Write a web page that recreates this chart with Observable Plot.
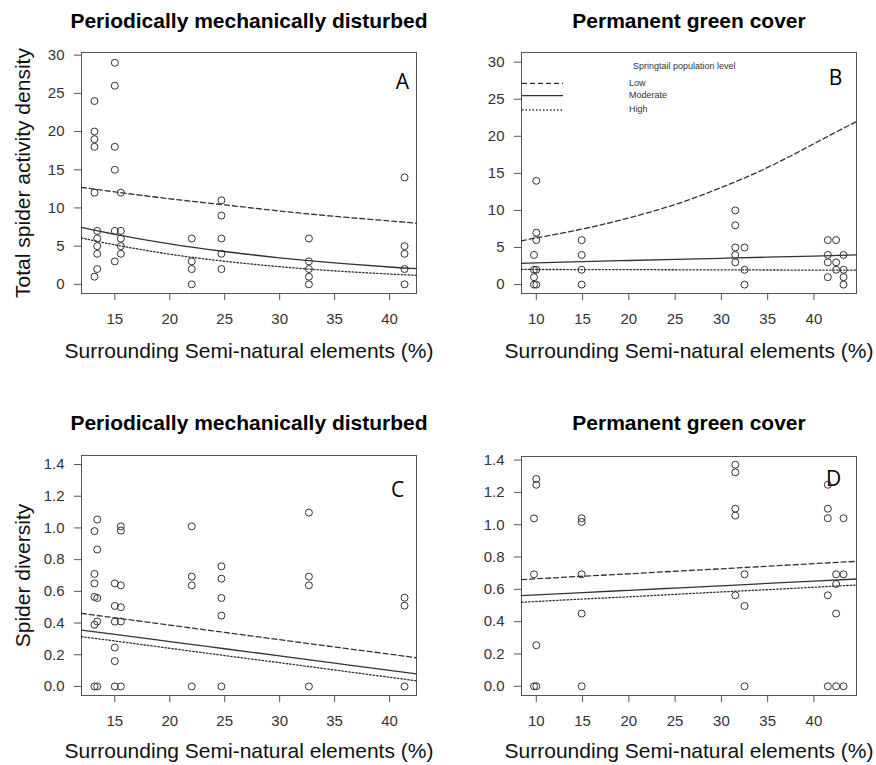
<!DOCTYPE html>
<html>
<head>
<meta charset="utf-8">
<script src="https://cdn.jsdelivr.net/npm/d3@7"></script>
<script src="https://cdn.jsdelivr.net/npm/@observablehq/plot@0.6"></script>
<style>
  html, body { margin: 0; padding: 0; background: #fff; }
  #wrap { position: relative; width: 876px; height: 765px; background: #fff; overflow: hidden; }
  #wrap > .p { position: absolute; }
</style>
</head>
<body>
<div id="wrap"></div>
<script>
// ---------- text ----------
const titleTop = "Periodically mechanically disturbed";
const titleGreen = "Permanent green cover";
const xLabel = "Surrounding Semi-natural elements (%)";
const yLabelTop = "Total spider activity density";
const yLabelBottom = "Spider diversity";
const panelLetters = ["A", "B", "C", "D"];
const legendTitle = "Springtail population level";
const legendLabels = ["Low", "Moderate", "High"];

// ---------- ticks ----------
const xTicksPMD = [15, 20, 25, 30, 35, 40];
const xTicksGreen = [10, 15, 20, 25, 30, 35, 40];
const yTicksDensity = [0, 5, 10, 15, 20, 25, 30];
const yTicksDiversity = [0, 0.2, 0.4, 0.6, 0.8, 1.0, 1.2, 1.4];

// ---------- Panel A: density, periodically mechanically disturbed ----------
const ptsA_x = [13.15,13.15,13.15,13.15,13.15,13.15, 13.4,13.4,13.4,13.4,13.4,
  15.0,15.0,15.0,15.0,15.0,15.0, 15.55,15.55,15.55,15.55,15.55,
  22.0,22.0,22.0,22.0, 24.7,24.7,24.7,24.7,24.7, 32.66,32.66,32.66,32.66,32.66,
  41.36,41.36,41.36,41.36,41.36];
const ptsA_y = [24,20,19,18,12,1, 7,6,5,4,2,
  29,26,18,15,7,3, 12,7,6,5,4,
  6,3,2,0, 11,9,6,4,2, 6,3,2,1,0,
  14,5,4,2,0];
const lineA_x = [11.97, 15, 20, 25, 30, 35, 40, 42.45];
const lineA_low = [12.7, 12.1, 11.2, 10.4, 9.6, 8.9, 8.3, 8.0];
const lineA_mod = [7.45, 6.55, 5.3, 4.3, 3.47, 2.81, 2.27, 2.05];
const lineA_high = [6.07, 5.17, 3.95, 3.02, 2.31, 1.76, 1.35, 1.18];

// ---------- Panel B: density, permanent green cover ----------
const ptsB_x = [9.75,9.75,9.75,9.75, 10.0,10.0,10.0,10.0,10.0,
  14.9,14.9,14.9,14.9, 31.5,31.5,31.5,31.5,31.5, 32.5,32.5,32.5,
  41.5,41.5,41.5,41.5, 42.4,42.4,42.4, 43.2,43.2,43.2,43.2];
const ptsB_y = [4,2,1,0, 14,7,6,2,0,
  6,4,2,0, 10,8,5,4,3, 5,2,0,
  6,4,3,1, 6,3,2, 4,2,1,0];
const lineB_x = [8.4, 10, 15, 20, 25, 30, 35, 40, 44.6];
const lineB_low = [5.9, 6.3, 7.5, 9.0, 10.8, 13.1, 15.8, 19.0, 22.0];
const lineB_mod = [2.87, 2.92, 3.1, 3.25, 3.4, 3.55, 3.7, 3.85, 4.0];
const lineB_high = [2.05, 2.04, 2.03, 2.02, 2.0, 1.99, 1.97, 1.96, 1.95];

// ---------- Panel C: diversity, periodically mechanically disturbed ----------
const ptsC_x = [13.15,13.15,13.15,13.15,13.15,13.15, 13.4,13.4,13.4,13.4,13.4,
  15.0,15.0,15.0,15.0,15.0,15.0, 15.55,15.55,15.55,15.55,15.55,15.55,
  22.0,22.0,22.0,22.0, 24.7,24.7,24.7,24.7,24.7, 32.66,32.66,32.66,32.66,
  41.36,41.36,41.36];
const ptsC_y = [0.98,0.71,0.65,0.565,0.39,0, 1.053,0.864,0.558,0.41,0,
  0.65,0.508,0.409,0.245,0.16,0, 1.01,0.983,0.638,0.50,0.41,0,
  1.01,0.693,0.638,0, 0.758,0.68,0.558,0.447,0, 1.097,0.693,0.638,0,
  0.56,0.51,0];
const lineC_x = [11.97, 15, 20, 25, 30, 35, 40, 42.45];
const lineC_low = [0.461, 0.433, 0.387, 0.341, 0.295, 0.249, 0.204, 0.181];
const lineC_mod = [0.356, 0.329, 0.283, 0.238, 0.193, 0.147, 0.102, 0.080];
const lineC_high = [0.314, 0.287, 0.241, 0.195, 0.150, 0.104, 0.058, 0.036];

// ---------- Panel D: diversity, permanent green cover ----------
const ptsD_x = [9.75,9.75,9.75, 10.0,10.0,10.0,10.0,
  14.9,14.9,14.9,14.9,14.9, 31.5,31.5,31.5,31.5,31.5, 32.5,32.5,32.5,
  41.5,41.5,41.5,41.5,41.5, 42.4,42.4,42.4,42.4, 43.2,43.2,43.2];
const ptsD_y = [1.039,0.693,0, 1.283,1.247,0.254,0,
  1.04,1.017,0.693,0.45,0, 1.371,1.324,1.099,1.056,0.563, 0.693,0.497,0,
  1.247,1.099,1.04,0.563,0, 0.693,0.633,0.45,0, 1.04,0.693,0];
const lineD_x = [8.4, 15, 20, 25, 30, 35, 40, 44.6];
const lineD_low = [0.66, 0.681, 0.696, 0.712, 0.727, 0.743, 0.759, 0.773];
const lineD_mod = [0.561, 0.58, 0.594, 0.608, 0.622, 0.637, 0.651, 0.664];
const lineD_high = [0.52, 0.54, 0.554, 0.569, 0.584, 0.598, 0.613, 0.627];

// ---------- drawing ----------
const INK = "#333";
const dashFor = ["5,3", null, "1.5,2"];

function zip(xs, ys) { return xs.map((x, i) => ({x, y: ys[i]})); }

function panel(cfg) {
  const lines = [cfg.low, cfg.mod, cfg.high].map(ys => zip(cfg.lx, ys));
  const marks = [
    Plot.frame({stroke: "#555", strokeWidth: 1}),
    Plot.axisX({ticks: cfg.xTicks, tickSize: 7, tickPadding: 13, fontSize: 15, label: null, stroke: "#555"}),
    Plot.axisY({ticks: cfg.yTicks, tickSize: 7, tickPadding: 10, fontSize: 15, label: null, stroke: "#555",
      tickFormat: cfg.yFormat}),
    ...lines.map((d, i) => Plot.line(d, {x: "x", y: "y", curve: "natural", stroke: INK,
      strokeWidth: 1.3, strokeDasharray: dashFor[i]})),
    Plot.dot(zip(cfg.px, cfg.py), {x: "x", y: "y", r: 3.5, stroke: INK, strokeWidth: 1, fill: "none"}),
    Plot.text([cfg.title], {text: d => d, frameAnchor: "top", dy: cfg.titleDy, lineAnchor: "bottom",
      textAnchor: "middle", fontSize: 21, fontWeight: "bold", fill: "#000"}),
    Plot.text([xLabel], {text: d => d, frameAnchor: "bottom", dy: cfg.xLabelDy, lineAnchor: "bottom",
      textAnchor: "middle", fontSize: 21, fill: "#111"}),
    Plot.text([cfg.letter], {text: d => d, frameAnchor: "top-right", dx: cfg.letterDx, dy: cfg.letterDy,
      lineAnchor: "middle", textAnchor: "middle", fontSize: 21, fill: "#000",
      fontFamily: "'Open Sans', 'Liberation Sans', sans-serif"})
  ];
  if (cfg.yLabel) {
    marks.push(Plot.text([cfg.yLabel], {text: d => d, frameAnchor: "left", dx: -52, rotate: -90,
      lineAnchor: "bottom", textAnchor: "middle", fontSize: 21, fill: "#111"}));
  }
  const svg = Plot.plot({
    width: 438,
    height: cfg.height,
    marginLeft: cfg.ml, marginRight: cfg.mr, marginTop: cfg.mt, marginBottom: cfg.mb,
    x: {domain: cfg.xDomain},
    y: {domain: cfg.yDomain},
    style: {fontFamily: "'Liberation Sans', Arial, sans-serif", color: INK, background: "transparent", overflow: "visible"},
    marks
  });
  svg.classList.add("p");
  svg.style.left = cfg.left + "px";
  svg.style.top = cfg.top + "px";
  document.getElementById("wrap").appendChild(svg);
  return svg;
}

const fmt1 = d3.format(".1f");

panel({left: 0, top: 0, height: 382, ml: 81, mr: 22, mt: 52, mb: 89,
  xDomain: [11.97, 42.45], yDomain: [-1.2, 30.35],
  xTicks: xTicksPMD, yTicks: yTicksDensity, yFormat: d3.format("d"),
  px: ptsA_x, py: ptsA_y, lx: lineA_x, low: lineA_low, mod: lineA_mod, high: lineA_high,
  title: titleTop, titleDy: -25, xLabelDy: 64, yLabel: yLabelTop,
  letter: panelLetters[0], letterDx: -14, letterDy: 30});

const svgB = panel({left: 438, top: 0, height: 382, ml: 83, mr: 20, mt: 52, mb: 89,
  xDomain: [8.4, 44.6], yDomain: [-1.2, 31.3],
  xTicks: xTicksGreen, yTicks: yTicksDensity, yFormat: d3.format("d"),
  px: ptsB_x, py: ptsB_y, lx: lineB_x, low: lineB_low, mod: lineB_mod, high: lineB_high,
  title: titleGreen, titleDy: -25, xLabelDy: 64, yLabel: null,
  letter: panelLetters[1], letterDx: -21, letterDy: 26});

panel({left: 0, top: 382, height: 383, ml: 81, mr: 22, mt: 73, mb: 70,
  xDomain: [11.97, 42.45], yDomain: [-0.057, 1.457],
  xTicks: xTicksPMD, yTicks: yTicksDiversity, yFormat: fmt1,
  px: ptsC_x, py: ptsC_y, lx: lineC_x, low: lineC_low, mod: lineC_mod, high: lineC_high,
  title: titleTop, titleDy: -26, xLabelDy: 62, yLabel: yLabelBottom,
  letter: panelLetters[2], letterDx: -19, letterDy: 35});

panel({left: 438, top: 382, height: 383, ml: 83, mr: 20, mt: 74, mb: 70,
  xDomain: [8.4, 44.6], yDomain: [-0.057, 1.422],
  xTicks: xTicksGreen, yTicks: yTicksDiversity, yFormat: fmt1,
  px: ptsD_x, py: ptsD_y, lx: lineD_x, low: lineD_low, mod: lineD_mod, high: lineD_high,
  title: titleGreen, titleDy: -27, xLabelDy: 62, yLabel: null,
  letter: panelLetters[3], letterDx: -23, letterDy: 23});

// ---------- legend inside panel B ----------
const lg = d3.select(svgB).append("g")
  .attr("font-family", "'Liberation Sans', Arial, sans-serif")
  .attr("font-size", 9).attr("fill", INK).attr("text-anchor", "start");
lg.append("text").attr("x", 195).attr("y", 67).attr("dominant-baseline", "middle").text(legendTitle);
const legendRowY = [83.3, 95.7, 110];
legendLabels.forEach((lab, i) => {
  lg.append("line").attr("x1", 84).attr("x2", 125).attr("y1", legendRowY[i]).attr("y2", legendRowY[i])
    .attr("stroke", INK).attr("stroke-width", 1.3).attr("stroke-dasharray", dashFor[i]);
  lg.append("text").attr("x", 191).attr("y", legendRowY[i]).attr("dominant-baseline", "middle").text(lab);
});
</script>
</body>
</html>
